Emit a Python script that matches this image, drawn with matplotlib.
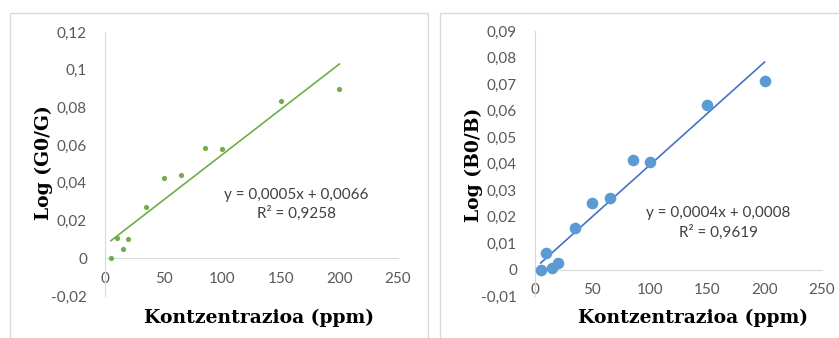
import numpy as np
import matplotlib
matplotlib.use('Agg')
import matplotlib.pyplot as plt
from matplotlib.patches import Rectangle
from matplotlib.ticker import FuncFormatter, MultipleLocator

# Datuak
konz = [5, 10, 15, 20, 35, 50, 65, 85, 100, 150, 200]
log_g = [0.0, 0.0109, 0.0047, 0.0100, 0.0270, 0.0428, 0.0442, 0.0586, 0.0577, 0.0835, 0.0898]
log_b = [-0.0003, 0.0064, 0.0006, 0.0025, 0.0155, 0.0252, 0.0268, 0.0413, 0.0404, 0.0621, 0.0712]
eq_g = "y = 0,0005x + 0,0066\nR² = 0,9258"
eq_b = "y = 0,0004x + 0,0008\nR² = 0,9619"

tick_font = 'Lato'
label_font = 'DejaVu Serif'
gray = '#595959'
W, H = 839, 338


def comma_fmt(v, pos):
    v = round(v, 4)
    if v == 0:
        return '0'
    return ('%g' % v).replace('.', ',')


def make_panel(fig, rect, x, y, color, line_color, msize, ylim, ystep, ylabel, eq, eq_pos, xl_pos, yl_pos):
    ax = fig.add_axes(rect)
    ax.scatter(x, y, s=msize, color=color, zorder=3, linewidths=0)
    k, b = np.polyfit(x, y, 1)
    xs = np.array([min(x), max(x)])
    ax.plot(xs, k * xs + b, color=line_color, lw=1.2, zorder=2)
    ax.set_xlim(0, 250)
    ax.set_ylim(*ylim)
    ax.xaxis.set_major_locator(MultipleLocator(50))
    ax.yaxis.set_major_locator(MultipleLocator(ystep))
    ax.yaxis.set_major_formatter(FuncFormatter(comma_fmt))
    for s in ['top', 'right']:
        ax.spines[s].set_visible(False)
    ax.spines['bottom'].set_position(('data', 0))
    ax.spines['left'].set_color('#d9d9d9')
    ax.spines['bottom'].set_color('#d9d9d9')
    ax.tick_params(length=0, labelsize=11, colors=gray)
    ax.tick_params(axis='y', pad=13)
    ax.tick_params(axis='x', pad=10)
    for t in ax.get_xticklabels() + ax.get_yticklabels():
        t.set_fontfamily(tick_font)
    fig.text(xl_pos[0] / W, 1 - xl_pos[1] / H, 'Kontzentrazioa (ppm)', fontsize=13.5, fontweight='bold',
             family=label_font, color='black', ha='center', va='center')
    fig.text(yl_pos[0] / W, 1 - yl_pos[1] / H, ylabel, fontsize=13.5, fontweight='bold',
             family=label_font, color='black', ha='center', va='center', rotation=90)
    ax.text(eq_pos[0], eq_pos[1], eq, ha='center', va='center', fontsize=11,
            family=tick_font, color='#404040', linespacing=1.35)
    ax.patch.set_alpha(0)
    return ax


fig = plt.figure(figsize=(W / 100, H / 100), dpi=100)

# panel borders
fig.patches.append(Rectangle((10 / W, -0.1), 418 / W, 1.1 - 13 / H, transform=fig.transFigure,
                             fill=False, edgecolor='#d9d9d9', lw=1))
fig.patches.append(Rectangle((440 / W, -0.1), 420 / W, 1.1 - 13 / H, transform=fig.transFigure,
                             fill=False, edgecolor='#d9d9d9', lw=1))

ax1 = make_panel(fig, [105 / W, 42 / H, 293 / W, 264 / H], konz, log_g,
                 '#70ad47', '#70ad47', 14, (-0.02, 0.12), 0.02, 'Log (G0/G)', eq_g, (163, 0.0285),
                 (259, 318), (44, 163))
ax2 = make_panel(fig, [535 / W, 42 / H, 287 / W, 265 / H], konz, log_b,
                 '#5b9bd5', '#4472c4', 70, (-0.01, 0.09), 0.01, 'Log (B0/B)', eq_b, (160, 0.0175),
                 (693, 318), (474, 165))

fig.savefig('out.png', dpi=100)
